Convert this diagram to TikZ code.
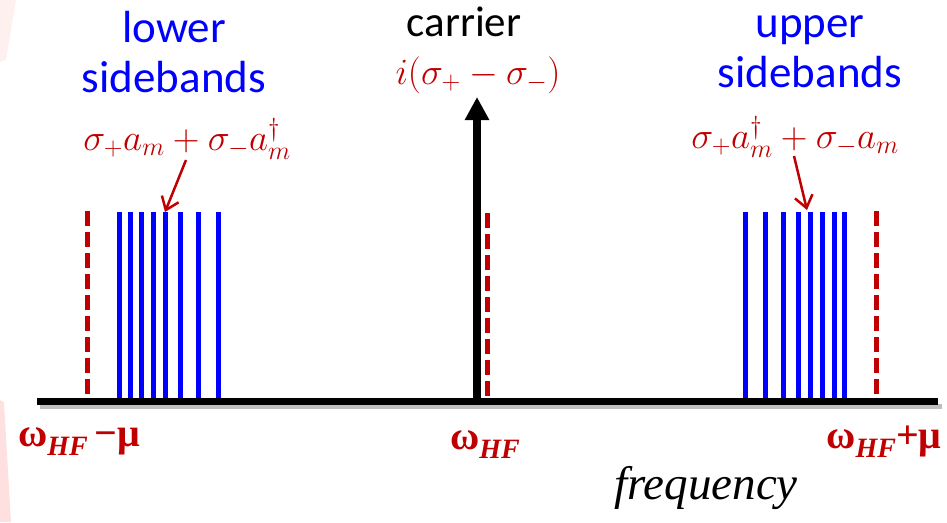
\RequirePackage{fix-cm}
\documentclass[tikz,border=0pt]{standalone}
\usepackage{fontspec}
\setmainfont{Carlito}
\newfontfamily\tnr{Liberation Serif}
\usetikzlibrary{arrows.meta}
\definecolor{darkred}{RGB}{192,0,0}
\begin{document}
\begin{tikzpicture}[x=1pt,y=-1pt]
\useasboundingbox (0,0) rectangle (947,522);
% slide background pieces
\fill[red!6] (0,0) -- (16,0) -- (6,60) -- (0,62) -- cycle;
\fill[red!12] (0,400) -- (4,402) -- (11,522) -- (0,522) -- cycle;
% axis with its shadow
\draw[line width=5pt,black!25] (40,406) -- (942,406);
\draw[line width=7pt,black] (37,401) coordinate (axl) -- (938,401) coordinate (axr);
% carrier
\draw[line width=5pt,darkred,dash pattern=on 15pt off 6pt] (487,213) -- (487,398);
\draw[line width=8pt,-{Triangle[length=23pt,width=23pt]}] (477,401) -- (477,97);
% lower sidebands
\draw[line width=5pt,darkred,dash pattern=on 15pt off 6pt] (87,211) -- (87,398);
\foreach \x in {119,130,141,153,165,180,198,218}
  \draw[line width=5pt,blue] (\x,212) -- (\x,398);
% upper sidebands
\draw[line width=5pt,darkred,dash pattern=on 15pt off 6pt] (876,211) -- (876,398);
\foreach \x in {745,765,783,798,810,822,834,844}
  \draw[line width=5pt,blue] (\x,212) -- (\x,398);
% labels
\node[blue,align=center,font=\fontsize{45}{50}\selectfont] (lower) at (174,52) {lower\\sidebands};
\node[blue,align=center,font=\fontsize{45}{50}\selectfont] (upper) at (810,52) {upper\\sidebands};
\node[font=\fontsize{43}{50}\selectfont] (carrier) at (464,22) {carrier};
\node[darkred,font=\fontsize{37}{40}\selectfont] (carrop) at (478,75) {$i(\sigma_+-\sigma_-)$};
\node[darkred,font=\fontsize{37}{40}\selectfont] (lowop) at (187,139) {$\sigma_+a_m+\sigma_-a_m^\dagger$};
\node[darkred,font=\fontsize{37}{40}\selectfont] (upop) at (795,137) {$\sigma_+a_m^\dagger+\sigma_-a_m$};
\coordinate (lowtip) at (165,212);
\coordinate (uptip) at (807,210);
\draw[darkred,line width=2.5pt,-{Straight Barb[length=12pt,width=18pt]}] (186,160) -- (lowtip);
\draw[darkred,line width=2.5pt,-{Straight Barb[length=12pt,width=18pt]}] (794,156) -- (uptip);
% frequency marks
\node[darkred,font=\tnr\bfseries\fontsize{40}{44}\selectfont] (wlow) at (79,442) {ω\textit{\fontsize{28}{30}\selectfont\raisebox{-9pt}{HF}}\,−μ};
\node[darkred,font=\tnr\bfseries\fontsize{40}{44}\selectfont] (wmid) at (485,445) {ω\textit{\fontsize{28}{30}\selectfont\raisebox{-9pt}{HF}}};
\node[darkred,font=\tnr\bfseries\fontsize{40}{44}\selectfont] (wup) at (884,442) {ω\textit{\fontsize{28}{30}\selectfont\raisebox{-9pt}{HF}}+μ};
\node[font=\tnr\itshape\fontsize{47}{50}\selectfont] (freq) at (706,488) {frequency};
\end{tikzpicture}
\end{document}
